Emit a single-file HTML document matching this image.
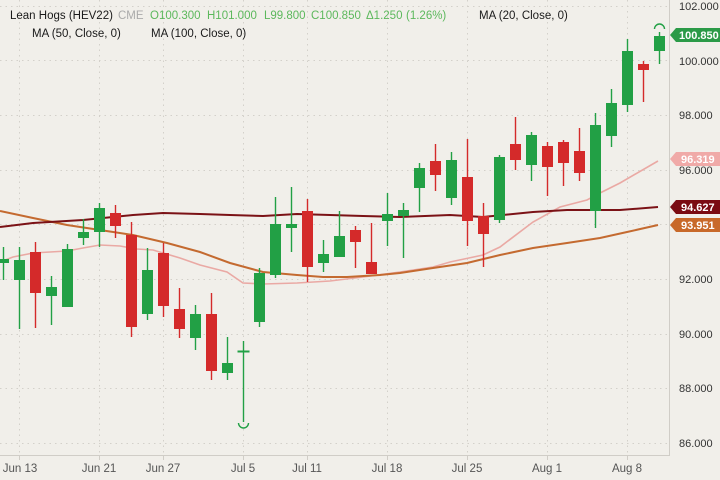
<!DOCTYPE html>
<html><head><meta charset="utf-8"><style>
html,body{margin:0;padding:0;background:#f1efea;}
svg{display:block;font-family:"Liberation Sans",sans-serif;}
</style></head><body>
<svg width="720" height="480" viewBox="0 0 720 480" xmlns="http://www.w3.org/2000/svg">
<rect width="720" height="480" fill="#f1efea"/>
<!-- grid -->
<g stroke="#d3d0ca" stroke-width="1" stroke-dasharray="1.5 4">
<line x1="0" y1="443.5" x2="669" y2="443.5"/>
<line x1="0" y1="388.5" x2="669" y2="388.5"/>
<line x1="0" y1="334.5" x2="669" y2="334.5"/>
<line x1="0" y1="279.5" x2="669" y2="279.5"/>
<line x1="0" y1="224.5" x2="669" y2="224.5"/>
<line x1="0" y1="170.5" x2="669" y2="170.5"/>
<line x1="0" y1="115.5" x2="669" y2="115.5"/>
<line x1="0" y1="60.5" x2="669" y2="60.5"/>
<line x1="0" y1="6.5" x2="669" y2="6.5"/>
<line x1="19.5" y1="0" x2="19.5" y2="455"/>
<line x1="99.5" y1="0" x2="99.5" y2="455"/>
<line x1="163.5" y1="0" x2="163.5" y2="455"/>
<line x1="243.5" y1="0" x2="243.5" y2="455"/>
<line x1="307.5" y1="0" x2="307.5" y2="455"/>
<line x1="387.5" y1="0" x2="387.5" y2="455"/>
<line x1="467.5" y1="0" x2="467.5" y2="455"/>
<line x1="547.5" y1="0" x2="547.5" y2="455"/>
<line x1="627.5" y1="0" x2="627.5" y2="455"/>
</g>
<!-- border -->
<g stroke="#d0cdc7" stroke-width="1">
<line x1="669.5" y1="0" x2="669.5" y2="456"/>
<line x1="0" y1="455.5" x2="670" y2="455.5"/>
<line x1="19.5" y1="456" x2="19.5" y2="460"/>
<line x1="99.5" y1="456" x2="99.5" y2="460"/>
<line x1="163.5" y1="456" x2="163.5" y2="460"/>
<line x1="243.5" y1="456" x2="243.5" y2="460"/>
<line x1="307.5" y1="456" x2="307.5" y2="460"/>
<line x1="387.5" y1="456" x2="387.5" y2="460"/>
<line x1="467.5" y1="456" x2="467.5" y2="460"/>
<line x1="547.5" y1="456" x2="547.5" y2="460"/>
<line x1="627.5" y1="456" x2="627.5" y2="460"/>
</g>
<!-- MAs -->
<polyline fill="none" stroke="#eaa9a4" stroke-width="1.6" points="0,262 13,257 33,253 67,251 83,248 100,245 120,246 137,249 153,250 180,258 200,265 227,272 243,283 263,284 297,283 330,281 363,277 400,272 433,267 450,262 483,255 500,247 533,222 560,207 587,200 600,193 620,183 658,161"/>
<polyline fill="none" stroke="#c46a30" stroke-width="2" points="0,211 33,218 67,225 100,230 133,235 167,243 200,252 230,263 263,272 297,275 323,277 347,277 380,275 400,273 433,268 467,263 500,255 533,248 567,243 600,238 627,232 658,225"/>
<polyline fill="none" stroke="#7b1216" stroke-width="2" points="0,227 33,223 83,220 133,215 163,213 200,214 230,215 263,216 297,214 330,215 363,216 400,217 450,215 483,217 533,212 567,210 620,210 658,207"/>
<!-- candles -->
<g>
<g stroke="#22a045" stroke-width="1.4" fill="none">
<line x1="3.5" y1="247" x2="3.5" y2="280"/>
<line x1="19.5" y1="247" x2="19.5" y2="329"/>
<line x1="51.5" y1="276" x2="51.5" y2="325"/>
<line x1="67.5" y1="244" x2="67.5" y2="307"/>
<line x1="83.5" y1="219" x2="83.5" y2="245"/>
<line x1="99.5" y1="203" x2="99.5" y2="247"/>
<line x1="147.5" y1="248" x2="147.5" y2="320"/>
<line x1="195.5" y1="305" x2="195.5" y2="350"/>
<line x1="227.5" y1="337" x2="227.5" y2="380"/>
<line x1="243.5" y1="341" x2="243.5" y2="422"/>
<line x1="259.5" y1="268" x2="259.5" y2="327"/>
<line x1="275.5" y1="197" x2="275.5" y2="278"/>
<line x1="291.5" y1="187" x2="291.5" y2="252"/>
<line x1="323.5" y1="240" x2="323.5" y2="272"/>
<line x1="339.5" y1="211" x2="339.5" y2="257"/>
<line x1="387.5" y1="193" x2="387.5" y2="246"/>
<line x1="403.5" y1="203" x2="403.5" y2="258"/>
<line x1="419.5" y1="163" x2="419.5" y2="212"/>
<line x1="451.5" y1="152" x2="451.5" y2="205"/>
<line x1="499.5" y1="155" x2="499.5" y2="223"/>
<line x1="531.5" y1="132" x2="531.5" y2="181"/>
<line x1="595.5" y1="113" x2="595.5" y2="228"/>
<line x1="611.5" y1="89" x2="611.5" y2="147"/>
<line x1="627.5" y1="39" x2="627.5" y2="112"/>
<line x1="659.5" y1="32" x2="659.5" y2="64"/>
<path d="M238.5,423 A5,5 0 0,0 248.5,423"/>
<path d="M654.5,29 A5,5 0 0,1 664.5,29"/>
</g>
<g fill="#22a045">
<rect x="-2" y="259" width="11" height="4"/>
<rect x="14" y="260" width="11" height="20"/>
<rect x="46" y="287" width="11" height="9"/>
<rect x="62" y="249" width="11" height="58"/>
<rect x="78" y="232" width="11" height="6"/>
<rect x="94" y="208" width="11" height="24"/>
<rect x="142" y="270" width="11" height="44"/>
<rect x="190" y="314" width="11" height="24"/>
<rect x="222" y="363" width="11" height="10"/>
<rect x="237.5" y="350.5" width="12" height="2"/>
<rect x="254" y="273" width="11" height="49"/>
<rect x="270" y="224" width="11" height="51"/>
<rect x="286" y="224" width="11" height="4"/>
<rect x="318" y="254" width="11" height="9"/>
<rect x="334" y="236" width="11" height="21"/>
<rect x="382" y="214" width="11" height="7"/>
<rect x="398" y="210" width="11" height="6"/>
<rect x="414" y="168" width="11" height="20"/>
<rect x="446" y="160" width="11" height="38"/>
<rect x="494" y="157" width="11" height="63"/>
<rect x="526" y="135" width="11" height="30"/>
<rect x="590" y="125" width="11" height="86"/>
<rect x="606" y="103" width="11" height="33"/>
<rect x="622" y="51" width="11" height="54"/>
<rect x="654" y="36" width="11" height="15"/>
</g>
<g stroke="#d42a2a" stroke-width="1.4">
<line x1="35.5" y1="242" x2="35.5" y2="328"/>
<line x1="115.5" y1="205" x2="115.5" y2="238"/>
<line x1="131.5" y1="222" x2="131.5" y2="337"/>
<line x1="163.5" y1="243" x2="163.5" y2="317"/>
<line x1="179.5" y1="288" x2="179.5" y2="338"/>
<line x1="211.5" y1="293" x2="211.5" y2="380"/>
<line x1="307.5" y1="199" x2="307.5" y2="282"/>
<line x1="355.5" y1="226" x2="355.5" y2="268"/>
<line x1="371.5" y1="223" x2="371.5" y2="274"/>
<line x1="435.5" y1="144" x2="435.5" y2="191"/>
<line x1="467.5" y1="139" x2="467.5" y2="246"/>
<line x1="483.5" y1="203" x2="483.5" y2="267"/>
<line x1="515.5" y1="117" x2="515.5" y2="170"/>
<line x1="547.5" y1="142" x2="547.5" y2="196"/>
<line x1="563.5" y1="140" x2="563.5" y2="186"/>
<line x1="579.5" y1="128" x2="579.5" y2="181"/>
<line x1="643.5" y1="61" x2="643.5" y2="102"/>
</g>
<g fill="#d42a2a">
<rect x="30" y="252" width="11" height="41"/>
<rect x="110" y="213" width="11" height="13"/>
<rect x="126" y="235" width="11" height="92"/>
<rect x="158" y="253" width="11" height="53"/>
<rect x="174" y="309" width="11" height="20"/>
<rect x="206" y="314" width="11" height="57"/>
<rect x="302" y="211" width="11" height="56"/>
<rect x="350" y="230" width="11" height="12"/>
<rect x="366" y="262" width="11" height="12"/>
<rect x="430" y="161" width="11" height="14"/>
<rect x="462" y="177" width="11" height="44"/>
<rect x="478" y="216" width="11" height="18"/>
<rect x="510" y="144" width="11" height="16"/>
<rect x="542" y="146" width="11" height="21"/>
<rect x="558" y="142" width="11" height="21"/>
<rect x="574" y="151" width="11" height="22"/>
<rect x="638" y="64" width="11" height="6"/>
</g>
</g>
<!-- right axis labels -->
<g font-size="11" fill="#333">
<text x="679" y="10">102.000</text>
<text x="679" y="65">100.000</text>
<text x="679" y="119">98.000</text>
<text x="679" y="174">96.000</text>
<text x="679" y="283">92.000</text>
<text x="679" y="338">90.000</text>
<text x="679" y="392">88.000</text>
<text x="679" y="447">86.000</text>
</g>
<!-- price tags -->
<g font-size="11" font-weight="bold" fill="#fff">
<polygon points="670,35 676,28 720,28 720,42 676,42" fill="#2b9a47"/>
<text x="679" y="39">100.850</text>
<polygon points="670,159 676,152 720,152 720,166 676,166" fill="#f0aaa8"/>
<text x="681" y="163">96.319</text>
<polygon points="670,207 676,200 720,200 720,214 676,214" fill="#7a0b12"/>
<text x="681" y="211">94.627</text>
<polygon points="670,225 676,218 720,218 720,232 676,232" fill="#c8692a"/>
<text x="681" y="229">93.951</text>
</g>
<!-- x labels -->
<g font-size="11.5" fill="#555" text-anchor="middle">
<text x="20" y="472">Jun 13</text>
<text x="99" y="472">Jun 21</text>
<text x="163" y="472">Jun 27</text>
<text x="243" y="472">Jul 5</text>
<text x="307" y="472">Jul 11</text>
<text x="387" y="472">Jul 18</text>
<text x="467" y="472">Jul 25</text>
<text x="547" y="472">Aug 1</text>
<text x="627" y="472">Aug 8</text>
</g>
<!-- header -->
<g font-size="11.5">
<text x="10" y="19" fill="#1a1a1a">Lean Hogs (HEV22)</text>
<text x="118" y="19" fill="#aaa">CME</text>
<g fill="#5cb85c">
<text x="150" y="19">O100.300</text>
<text x="207" y="19">H101.000</text>
<text x="264" y="19">L99.800</text>
<text x="311" y="19">C100.850</text>
<text x="366" y="19">Δ1.250</text>
<text x="406" y="19">(1.26%)</text>
</g>
<text x="479" y="19" fill="#1a1a1a">MA (20, Close, 0)</text>
<text x="32" y="37" fill="#1a1a1a">MA (50, Close, 0)</text>
<text x="151" y="37" fill="#1a1a1a">MA (100, Close, 0)</text>
</g>
</svg>
</body></html>
